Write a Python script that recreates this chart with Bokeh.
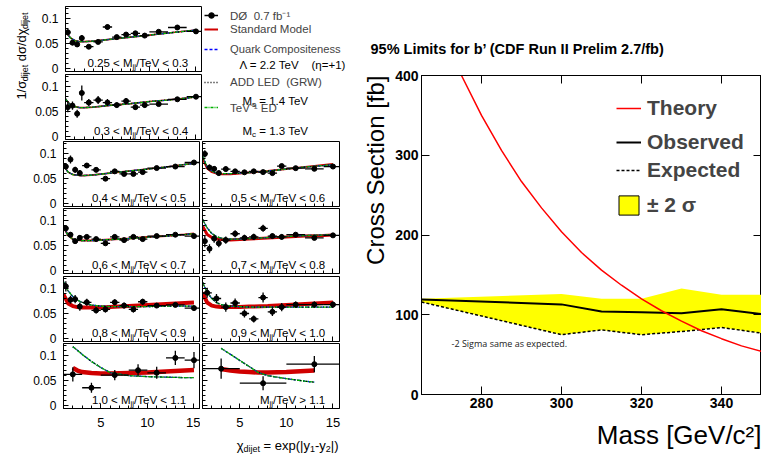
import math
from bokeh.plotting import figure
from bokeh.models import Label, Legend, LegendItem, Range1d, FixedTicker, LinearAxis, Title
from bokeh.layouts import row, column
from bokeh.embed import file_html
from bokeh.resources import INLINE

FONT = "Liberation Sans"

# ---------------- D0 dijet chi distributions (left) ----------------
chi_std = [1.25, 1.75, 2.25, 2.75, 3.5, 4.5, 5.5, 6.5, 7.5, 8.5, 9.5, 11, 13, 15]
hw_std = [0.25, 0.25, 0.25, 0.25, 0.5, 0.5, 0.5, 0.5, 0.5, 0.5, 0.5, 1, 1, 1]
chi_m9 = [1.5, 2.5, 3.5, 4.5, 5.5, 6.5, 7.5, 8.5, 9.5, 11, 13, 15]
hw_m9 = [0.5, 0.5, 0.5, 0.5, 0.5, 0.5, 0.5, 0.5, 0.5, 1, 1, 1]
chi_m6 = [2, 4, 6.5, 9, 11, 13, 15]
hw_m6 = [1, 1, 1.5, 1, 1, 1, 1]
chi_m10 = [3, 7.5, 13]
hw_m10 = [2, 2.5, 3]

y_m1 = [0.0725, 0.052, 0.0485, 0.061, 0.044, 0.0535, 0.083, 0.063, 0.068, 0.0705, 0.066, 0.0735, 0.082, 0.0743]
e_m1 = [0.006, 0.005, 0.005, 0.006, 0.004, 0.004, 0.005, 0.004, 0.004, 0.004, 0.004, 0.003, 0.004, 0.004]
y_m2 = [0.059, 0.062, 0.046, 0.087, 0.068, 0.073, 0.068, 0.063, 0.071, 0.059, 0.063, 0.065, 0.0745, 0.0796]
e_m2 = [0.010, 0.008, 0.008, 0.015, 0.007, 0.008, 0.007, 0.005, 0.006, 0.005, 0.005, 0.004, 0.004, 0.004]
y_m3 = [0.074, 0.088, 0.0675, 0.061, 0.076, 0.0675, 0.050, 0.0645, 0.0594, 0.0594, 0.063, 0.071, 0.074, 0.082]
e_m3 = [0.006, 0.008, 0.006, 0.006, 0.005, 0.005, 0.004, 0.004, 0.004, 0.004, 0.004, 0.003, 0.003, 0.003]
y_m4 = [0.0843, 0.0717, 0.059, 0.0655, 0.0674, 0.063, 0.0547, 0.0674, 0.061, 0.0674, 0.063, 0.069, 0.0717, 0.069]
e_m4 = [0.006, 0.005, 0.005, 0.005, 0.004, 0.004, 0.004, 0.004, 0.004, 0.004, 0.004, 0.003, 0.003, 0.003]
y_m5 = [0.104, 0.0774, 0.0787, 0.064, 0.0725, 0.0566, 0.0585, 0.0725, 0.066, 0.0585, 0.0736, 0.066, 0.0674, 0.061]
e_m5 = [0.010, 0.008, 0.008, 0.008, 0.007, 0.006, 0.006, 0.006, 0.006, 0.006, 0.006, 0.004, 0.004, 0.004]
y_m6 = [0.0625, 0.036, 0.061, 0.0707, 0.0656, 0.095, 0.0906]
e_m6 = [0.014, 0.010, 0.010, 0.012, 0.012, 0.014, 0.016]
y_m7 = [0.099, 0.072, 0.0695, 0.061, 0.069, 0.0645, 0.0626, 0.0645, 0.063, 0.061, 0.075, 0.0708, 0.0695, 0.074]
e_m7 = [0.007, 0.006, 0.005, 0.005, 0.005, 0.004, 0.004, 0.004, 0.004, 0.004, 0.004, 0.003, 0.003, 0.003]
y_m8 = [0.059, 0.044, 0.064, 0.0547, 0.061, 0.0736, 0.0654, 0.0674, 0.0843, 0.069, 0.0674, 0.0717, 0.0654, 0.0704]
e_m8 = [0.012, 0.009, 0.008, 0.008, 0.007, 0.007, 0.006, 0.006, 0.007, 0.005, 0.005, 0.004, 0.004, 0.004]
y_m9 = [0.0913, 0.080, 0.063, 0.0711, 0.0504, 0.0396, 0.0819, 0.0536, 0.063, 0.0679, 0.0679, 0.0679]
e_m9 = [0.010, 0.009, 0.009, 0.009, 0.008, 0.007, 0.010, 0.008, 0.008, 0.006, 0.006, 0.006]
y_m10 = [0.0737, 0.045, 0.0826]
e_m10 = [0.020, 0.014, 0.016]

theory_chi = [1, 1.5, 2, 2.5, 3, 4, 5, 6, 8, 10, 12, 14, 15]
theory_chi_m6 = [2, 2.5, 3, 4, 5, 6, 8, 10, 12, 14, 15]
theory_chi_m10 = [3, 4, 5, 6, 7, 8, 10, 12, 13]

sm_m1 = [0.074, 0.062, 0.056, 0.054, 0.054, 0.055, 0.057, 0.059, 0.063, 0.067, 0.071, 0.075, 0.077]
sm_m2 = [0.075, 0.064, 0.060, 0.058, 0.058, 0.059, 0.061, 0.063, 0.066, 0.070, 0.073, 0.077, 0.079]
sm_m3 = [0.076, 0.063, 0.058, 0.057, 0.056, 0.057, 0.059, 0.061, 0.065, 0.069, 0.073, 0.078, 0.080]
sm_m4 = [0.087, 0.070, 0.063, 0.061, 0.060, 0.060, 0.061, 0.062, 0.064, 0.067, 0.069, 0.072, 0.074]
sm_m5 = [0.088, 0.070, 0.065, 0.063, 0.062, 0.062, 0.062, 0.063, 0.065, 0.067, 0.069, 0.071, 0.072]
sm_m6 = [0.075, 0.070, 0.067, 0.065, 0.064, 0.064, 0.065, 0.066, 0.068, 0.070, 0.071]
sm_m7 = [0.090, 0.070, 0.063, 0.060, 0.059, 0.059, 0.060, 0.062, 0.065, 0.069, 0.073, 0.077, 0.079]
sm_m8 = [0.089, 0.072, 0.066, 0.063, 0.062, 0.061, 0.062, 0.063, 0.065, 0.067, 0.069, 0.070, 0.071]
sm_m9 = [0.092, 0.072, 0.066, 0.064, 0.063, 0.063, 0.063, 0.064, 0.065, 0.067, 0.069, 0.071, 0.072]
sm_m10 = [0.073, 0.070, 0.068, 0.067, 0.066, 0.066, 0.067, 0.069, 0.070]

np_m5 = [0.113, 0.095, 0.084, 0.077, 0.072, 0.067, 0.065, 0.064, 0.064, 0.064, 0.065, 0.065, 0.065]
np_m6 = [0.117, 0.110, 0.102, 0.088, 0.076, 0.066, 0.060, 0.058, 0.057, 0.056, 0.056]
np_m7 = [0.095, 0.073, 0.065, 0.061, 0.060, 0.060, 0.061, 0.062, 0.065, 0.069, 0.073, 0.076, 0.078]
np_m8 = [0.102, 0.085, 0.074, 0.068, 0.065, 0.063, 0.063, 0.064, 0.066, 0.068, 0.070, 0.071, 0.072]
np_m9 = [0.112, 0.092, 0.080, 0.072, 0.068, 0.065, 0.064, 0.063, 0.063, 0.063, 0.063, 0.063, 0.063]
np_m10 = [0.114, 0.102, 0.090, 0.078, 0.066, 0.060, 0.054, 0.049, 0.047]

# ---------------- CDF b' limits (right) ----------------
mass = [265, 300, 310, 320, 330, 340, 350]
observed = [119, 113, 104, 103, 102, 107, 101]
expected = [116, 75, 81, 75, 79, 84, 77]
band_up = [120, 126, 120, 120, 133, 125, 125]
theory_mass = [270, 275, 280, 285, 290, 295, 300, 305, 310, 315, 320, 325, 330, 335, 340, 345, 350]
theory_xsec = [458, 400, 350, 306, 267, 234, 204, 178, 156, 137, 120, 105, 92, 80, 70, 61, 54]

# -------- text metrics helper (Arial / Liberation Sans widths per 1000 em) --------
W = {' ': 278, '.': 278, '<': 584, '>': 584, '=': 584, '/': 278, '-': 333, '+': 584,
     '(': 333, ')': 333, '|': 260, 'M': 833, 'T': 611, 'V': 667, 'e': 556, 'j': 222,
     'i': 222, 'd': 556, 't': 278, 'x': 500, 'p': 556, 'y': 500, 'c': 500, 's': 500,
     'σ': 570, 'χ': 520, 'Λ': 667, 'η': 556, '1': 556}


def tw(s, size):
    return sum(W.get(ch, 556) for ch in s) * size / 1000.0


def rich(fig, x, y, parts, align="left", angle=0.0, units="screen", font=FONT, color="black"):
    total = sum(tw(t, s) for t, s, _ in parts)
    base = x if angle == 0 else y
    pos = base - total if align == "right" else base
    for t, s, d in parts:
        lead = len(t) - len(t.lstrip(" "))
        pt = pos + tw(" " * lead, s)
        if angle == 0:
            lx, ly = pt, y + d
        else:
            lx, ly = x - d, pt
        fig.add_layout(Label(x=lx, y=ly, x_units=units, y_units=units, text=t.strip(" "),
                             text_font=font, text_font_size=f"{s}px", text_color=color,
                             text_align="left", text_baseline="alphabetic", angle=angle))
        pos += tw(t, s)


def hide_labels(ax):
    ax.major_label_text_font_size = "0px"
    ax.major_label_text_color = None
    ax.major_label_standoff = 0


FW, FH = 137, 65


def make_panel(left, right, top, bottom, label_lo, label_hi, op, ylabels, last=False):
    p = figure(frame_width=FW, frame_height=FH, x_range=Range1d(1, 15.7),
               y_range=Range1d(-0.005, 0.1235), output_backend="svg", toolbar_location=None,
               min_border_left=left, min_border_right=right,
               min_border_top=top, min_border_bottom=bottom)
    p.grid.visible = False
    p.outline_line_color = "black"
    p.background_fill_color = "white"
    p.border_fill_color = "white"
    for ax in (p.xaxis[0], p.yaxis[0]):
        ax.axis_line_color = "black"
        ax.major_tick_in = 5
        ax.major_tick_out = 0
        ax.minor_tick_in = 3
        ax.minor_tick_out = 0
        ax.major_tick_line_color = "black"
        ax.minor_tick_line_color = "black"
        ax.major_label_text_font = FONT
        ax.major_label_text_color = "black"
    p.xaxis.ticker = FixedTicker(ticks=[5, 10, 15], minor_ticks=list(range(2, 16)))
    p.yaxis.ticker = FixedTicker(ticks=[0, 0.05, 0.1],
                                 minor_ticks=[0.01 * i for i in range(13)])
    p.yaxis.major_label_overrides = {0: "0", 0.05: "0.05", 0.1: "0.1"}
    if last:
        p.xaxis.major_label_text_font_size = "13px"
        p.xaxis.major_label_standoff = 9
    else:
        hide_labels(p.xaxis[0])
    if ylabels:
        p.yaxis.major_label_text_font_size = "12px"
        p.yaxis.major_label_standoff = 7
    else:
        hide_labels(p.yaxis[0])
    if label_lo is None:
        parts = [("M", 11.5, 0), ("jj", 8, -3), ("/TeV " + op + " " + label_hi, 11.5, 0)]
    else:
        parts = [(label_lo + " < M", 11.5, 0), ("jj", 8, -3), ("/TeV < " + label_hi, 11.5, 0)]
    rich(p, 124, 8.5, parts, align="right")
    return p


def draw(p, chi, hw, y, err, tchi, sm, qc, add, ted, smw):
    p.line(tchi, sm, color="#d00000", line_width=smw)
    p.line(tchi, qc, color="#0000ff", line_width=1.3, line_dash="3 2")
    p.line(tchi, add, color="black", line_width=1.4, line_dash="1 2")
    p.line(tchi, ted, color="#00b000", line_width=1.3, line_dash="3 1 1 1")
    lo = [a - b for a, b in zip(y, err)]
    hi = [a + b for a, b in zip(y, err)]
    xl = [a - b for a, b in zip(chi, hw)]
    xr = [a + b for a, b in zip(chi, hw)]
    p.segment(chi, lo, chi, hi, color="black", line_width=1.3)
    p.segment(xl, y, xr, y, color="black", line_width=1.3)
    p.scatter(chi, y, size=5, color="black")


C2R = 8  # right border of the second panel column
p1 = make_panel(31, 0, 6, 3, "0.25", "0.3", "<", True)
draw(p1, chi_std, hw_std, y_m1, e_m1, theory_chi, sm_m1, sm_m1, sm_m1, sm_m1, 1.6)
p2 = make_panel(31, 0, 0, 2, "0.3", "0.4", "<", True)
draw(p2, chi_std, hw_std, y_m2, e_m2, theory_chi, sm_m2, sm_m2, sm_m2, sm_m2, 1.6)
p3 = make_panel(63, 0, 0, 2, "0.4", "0.5", "<", True)
draw(p3, chi_std, hw_std, y_m3, e_m3, theory_chi, sm_m3, sm_m3, sm_m3, sm_m3, 1.6)
p4 = make_panel(63, 0, 0, 3, "0.6", "0.7", "<", True)
draw(p4, chi_std, hw_std, y_m4, e_m4, theory_chi, sm_m4, sm_m4, sm_m4, sm_m4, 2.0)
p5 = make_panel(63, 0, 0, 2, "0.8", "0.9", "<", True)
draw(p5, chi_std, hw_std, y_m5, e_m5, theory_chi, sm_m5, np_m5, np_m5, np_m5, 4.0)
p6 = make_panel(63, 0, 0, 25, "1.0", "1.1", "<", True, last=True)
draw(p6, chi_m6, hw_m6, y_m6, e_m6, theory_chi_m6, sm_m6, np_m6, np_m6, np_m6, 4.5)
p7 = make_panel(2, C2R, 0, 2, "0.5", "0.6", "<", False)
draw(p7, chi_std, hw_std, y_m7, e_m7, theory_chi, sm_m7, np_m7, np_m7, np_m7, 2.0)
p8 = make_panel(2, C2R, 0, 3, "0.7", "0.8", "<", False)
draw(p8, chi_std, hw_std, y_m8, e_m8, theory_chi, sm_m8, np_m8, np_m8, np_m8, 3.0)
p9 = make_panel(2, C2R, 0, 2, "0.9", "1.0", "<", False)
draw(p9, chi_m9, hw_m9, y_m9, e_m9, theory_chi, sm_m9, np_m9, np_m9, np_m9, 4.0)
p10 = make_panel(2, C2R, 0, 25, None, "1.1", ">", False, last=True)
draw(p10, chi_m10, hw_m10, y_m10, e_m10, theory_chi_m10, sm_m10, np_m10, np_m10, np_m10, 4.5)


def blank(w, h):
    f = figure(width=w, height=h, x_range=Range1d(0, w), y_range=Range1d(0, h),
               x_axis_location=None, y_axis_location=None, min_border_left=0,
               min_border_right=0, min_border_top=0, min_border_bottom=0,
               outline_line_color=None, toolbar_location=None, output_backend="svg")
    f.grid.visible = False
    return f


LEGW = 2 + FW + C2R  # 147

# ---- x-axis title strip under the panels ----
xlab = blank(32 + 168 + LEGW, 25)
rich(xlab, 338, 13, [("χ", 13, 0), ("dijet", 9, -3), (" = exp(|y", 13, 0), ("1", 9, -3),
                     ("-y", 13, 0), ("2", 9, -3), ("|)", 13, 0)], align="right", units="data")

# ---- y-axis title (top-left corner, beside the first two panels) ----
ylab = blank(32, 141)
rich(ylab, 21, 129, [("1/σ", 13, 0), ("dijet", 9, -3), (" dσ/dχ", 13, 0), ("dijet", 9, -3)],
     align="right", angle=math.pi / 2, units="data")

# ---- legend box (rows 1-2, right column) ----
leg = blank(LEGW, 141)
off_x = [-50, -40]
off_y = [-50, -50]
r_d0l = leg.line(off_x, off_y, color="black", line_width=1.5)
r_d0m = leg.scatter(off_x[:1], off_y[:1], size=6, color="black")
r_sm = leg.line(off_x, off_y, color="#d00000", line_width=2)
r_qc = leg.line(off_x, off_y, color="#0000ff", line_width=1.5, line_dash="3 2")
r_add = leg.line(off_x, off_y, color="black", line_width=1.5, line_dash="1 2")
r_ted = leg.line(off_x, off_y, color="#00b000", line_width=1.5, line_dash="3 1 1 1")


def one_legend(fig, label, rends, x, yc, size, h, gw, standoff, bold=False):
    lg = Legend(items=[LegendItem(label=label, renderers=rends)], location=(x, yc - h / 2),
                label_text_font=FONT, label_text_font_size=f"{size}px",
                label_text_font_style="bold" if bold else "normal",
                glyph_width=gw, glyph_height=h, label_height=h, padding=0, margin=0,
                spacing=0, label_standoff=standoff, border_line_alpha=0,
                background_fill_alpha=0)
    fig.add_layout(lg)


one_legend(leg, "DØ  0.7 fb⁻¹", [r_d0l, r_d0m], 2, 126, 11.5, 16, 14, 12)
one_legend(leg, "Standard Model", [r_sm], 2, 111.7, 11.5, 16, 14, 12)
one_legend(leg, "Quark Compositeness", [r_qc], 2, 91.7, 11.2, 16, 14, 12)
one_legend(leg, "ADD LED  (GRW)", [r_add], 2, 59.3, 11.5, 16, 14, 12)
one_legend(leg, "TeV⁻¹ ED", [r_ted], 2, 33.7, 11.5, 16, 14, 12)
rich(leg, 37, 77, [("Λ = 2.2 TeV", 11.5, 0)], units="data")
rich(leg, 109, 77, [("(η=+1)", 11.5, 0)], units="data")
rich(leg, 40, 40.3, [("M", 11.5, 0), ("s", 8, -3), (" = 1.4 TeV", 11.5, 0)], units="data")
rich(leg, 40, 10.3, [("M", 11.5, 0), ("c", 8, -3), (" = 1.3 TeV", 11.5, 0)], units="data")

# ---------------- right figure ----------------
rp = figure(frame_width=340, frame_height=319, x_range=Range1d(265, 350),
            y_range=Range1d(0, 400), min_border_left=72, min_border_right=0,
            min_border_top=75, min_border_bottom=64, output_backend="svg",
            toolbar_location=None)
rp.grid.visible = False
rp.outline_line_color = "black"
xt = [280, 300, 320, 340]
yt = [0, 100, 200, 300, 400]
rp.xaxis.ticker = FixedTicker(ticks=xt, minor_ticks=[])
rp.yaxis.ticker = FixedTicker(ticks=yt, minor_ticks=[])
for ax in (rp.xaxis[0], rp.yaxis[0]):
    ax.major_tick_in = 8
    ax.major_tick_out = 0
    ax.minor_tick_line_color = None
    ax.axis_line_color = "black"
    ax.major_label_text_font = FONT
    ax.major_label_text_font_style = "bold"
    ax.major_label_text_font_size = "14px"
    ax.major_label_text_color = "black"
rp.xaxis.major_label_standoff = 3
rp.yaxis.major_label_standoff = 3
top_ax = LinearAxis(ticker=FixedTicker(ticks=xt, minor_ticks=[]), major_tick_in=8,
                    major_tick_out=0, minor_tick_line_color=None, axis_line_color="black")
hide_labels(top_ax)
rp.add_layout(top_ax, "above")
right_ax = LinearAxis(ticker=FixedTicker(ticks=yt, minor_ticks=[]), major_tick_in=8,
                      major_tick_out=0, minor_tick_line_color=None, axis_line_color="black")
hide_labels(right_ax)
rp.add_layout(right_ax, "right")

band = rp.varea(x=mass, y1=expected, y2=band_up, fill_color="#ffff00")
r_exp = rp.line(mass, expected, color="black", line_width=1.5, line_dash="3 2")
r_obs = rp.line(mass, observed, color="black", line_width=2)
r_th = rp.line(theory_mass, theory_xsec, color="#ff0000", line_width=1.5)
r_box = rp.quad(left=[250], right=[255], top=[-20], bottom=[-30], fill_color="#ffff00",
                line_color="black", line_width=1)

one_legend(rp, "Theory", [r_th], 195, 285.7, 21, 24, 25, 6, bold=True)
one_legend(rp, "Observed", [r_obs], 195, 252.3, 21, 24, 25, 6, bold=True)
one_legend(rp, "Expected", [r_exp], 195, 224, 21, 24, 25, 6, bold=True)
one_legend(rp, "± 2 σ", [r_box], 195, 189, 21, 24, 25, 6, bold=True)

rp.title.text = "95% Limits for b’ (CDF Run II Prelim 2.7/fb)"
rp.title.align = "left"
rp.title.offset = -51
rp.title.standoff = 37
rp.title.text_font = FONT
rp.title.text_font_style = "bold"
rp.title.text_font_size = "14.5px"
rp.title.text_color = "black"

ytitle = Title(text="Cross Section [fb]", align="right", text_font=FONT, text_font_size="24px",
               text_font_style="normal", text_color="black", standoff=7)
rp.add_layout(ytitle, "left")
xtitle = Title(text="Mass [GeV/c²]", align="right", text_font=FONT, text_font_size="26px",
               text_font_style="normal", text_color="black", standoff=14)
rp.add_layout(xtitle, "below")

rp.add_layout(Label(x=30, y=45, x_units="screen", y_units="screen",
                    text="-2 Sigma same as expected.", text_font="Open Sans",
                    text_font_size="9px", text_color="#222222"))

left_block = column(row(ylab, column(p1, p2), leg), row(p3, p7), row(p4, p8), row(p5, p9),
                    row(p6, p10), xlab)
layout = row(left_block, rp)

open("out.html", "w").write(file_html(layout, INLINE))
